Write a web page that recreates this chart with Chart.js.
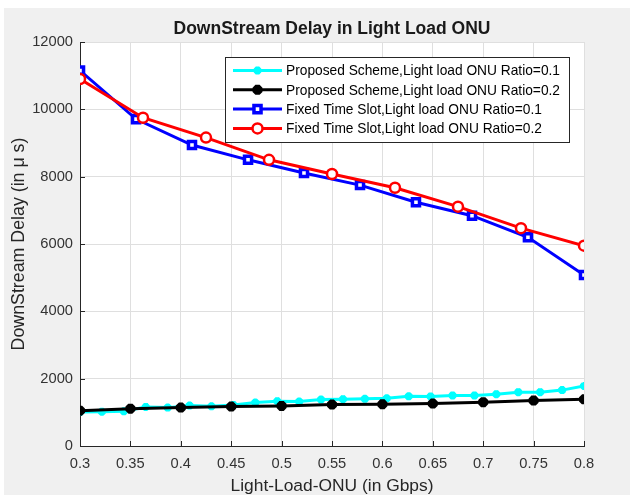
<!DOCTYPE html>
<html>
<head>
<meta charset="utf-8">
<script src="https://cdn.jsdelivr.net/npm/chart.js@4"></script>
<style>
  html, body { margin: 0; padding: 0; background: #fff; }
  #wrap { position: absolute; left: 0; top: 0; width: 630px; height: 495px; }
</style>
</head>
<body>
<div id="wrap"><canvas id="delayChart" width="630" height="495"></canvas></div>
<script>
// Data
const chartTitle = "DownStream Delay in Light Load ONU";
const seriesNames = [
  "Proposed Scheme,Light load ONU Ratio=0.1",
  "Proposed Scheme,Light load ONU Ratio=0.2",
  "Fixed Time Slot,Light load ONU Ratio=0.1",
  "Fixed Time Slot,Light load ONU Ratio=0.2",
];
const xProposed01 = [0.3, 0.3217, 0.3435, 0.3652, 0.387, 0.4087, 0.4304, 0.4522, 0.4739, 0.4957, 0.5174, 0.5391,
  0.5609, 0.5826, 0.6043, 0.6261, 0.6478, 0.6696, 0.6913, 0.713, 0.7348, 0.7565, 0.7783, 0.8];
const delayProposed01 = [1010, 1020, 1030, 1160, 1140, 1200, 1180, 1220, 1290, 1330, 1320, 1380,
  1390, 1400, 1415, 1475, 1470, 1500, 1500, 1540, 1600, 1600, 1660, 1785];
const xProposed02 = [0.3, 0.35, 0.4, 0.45, 0.5, 0.55, 0.6, 0.65, 0.7, 0.75, 0.8];
const delayProposed02 = [1050, 1110, 1140, 1170, 1190, 1230, 1240, 1260, 1300, 1350, 1385];
const xFixed01 = [0.3, 0.3556, 0.4111, 0.4667, 0.5222, 0.5778, 0.6333, 0.6889, 0.7444, 0.8];
const delayFixed01 = [11150, 9710, 8940, 8500, 8110, 7750, 7240, 6840, 6200, 5080];
const xFixed02 = [0.3, 0.3625, 0.425, 0.4875, 0.55, 0.6125, 0.675, 0.7375, 0.8];
const delayFixed02 = [10900, 9750, 9160, 8500, 8080, 7670, 7110, 6470, 5950];
const xTicks = [0.3, 0.35, 0.4, 0.45, 0.5, 0.55, 0.6, 0.65, 0.7, 0.75, 0.8];
const yTicks = [0, 2000, 4000, 6000, 8000, 10000, 12000];

function toPoints(xs, ys) {
  return xs.map(function (x, i) {
    return { x: x, y: ys[i] };
  });
}

const FONT = "Arial, 'Liberation Sans', Helvetica, sans-serif";
const AXIS_COLOR = "#262626";

// grey figure background + white axes area
const figureBackground = {
  id: "figureBackground",
  beforeDraw(chart) {
    const ctx = chart.ctx;
    const a = chart.chartArea;
    ctx.save();
    ctx.fillStyle = "#ffffff";
    ctx.fillRect(0, 0, chart.width, chart.height);
    ctx.fillStyle = "#f0f0f0";
    ctx.fillRect(4, 8, chart.width - 4, chart.height - 8);
    ctx.fillStyle = "#ffffff";
    ctx.fillRect(a.left, a.top, a.right - a.left, a.bottom - a.top);
    ctx.restore();
  },
};

// title centred over the axes, like MATLAB does it
const axesTitle = {
  id: "axesTitle",
  afterDraw(chart) {
    const ctx = chart.ctx;
    const a = chart.chartArea;
    ctx.save();
    ctx.font = "bold 17.5px " + FONT;
    ctx.fillStyle = "#1a1a1a";
    ctx.textAlign = "center";
    ctx.textBaseline = "middle";
    ctx.fillText(chartTitle, (a.left + a.right) / 2, a.top - 13);
    ctx.restore();
  },
};

// MATLAB style tick marks pointing into the axes
const inwardTicks = {
  id: "inwardTicks",
  beforeDatasetsDraw(chart) {
    const ctx = chart.ctx;
    const a = chart.chartArea;
    const xs = chart.scales.x;
    const ys = chart.scales.y;
    ctx.save();
    ctx.strokeStyle = AXIS_COLOR;
    ctx.lineWidth = 1;
    ctx.beginPath();
    xs.ticks.forEach(function (t) {
      const px = Math.round(xs.getPixelForValue(t.value)) + 0.5;
      ctx.moveTo(px, a.bottom);
      ctx.lineTo(px, a.bottom - 5);
    });
    ys.ticks.forEach(function (t) {
      const py = Math.round(ys.getPixelForValue(t.value)) + 0.5;
      ctx.moveTo(a.left, py);
      ctx.lineTo(a.left + 5, py);
    });
    ctx.stroke();
    ctx.restore();
  },
};

// legend box in the upper right of the axes
const boxLegend = {
  id: "boxLegend",
  afterDatasetsDraw(chart) {
    const ctx = chart.ctx;
    const a = chart.chartArea;
    const w = 344;
    const h = 85;
    const left = a.right - 15 - w;
    const top = a.top + 15;
    ctx.save();
    ctx.fillStyle = "#ffffff";
    ctx.fillRect(left, top, w, h);
    ctx.strokeStyle = "#262626";
    ctx.lineWidth = 1;
    ctx.strokeRect(left + 0.5, top + 0.5, w, h);
    ctx.font = "13.75px " + FONT;
    ctx.textBaseline = "middle";
    ctx.textAlign = "left";
    [0, 1, 2, 3].forEach(function (di, row) {
      const ds = chart.data.datasets[di];
      const y = top + 13.5 + row * 19.3;
      ctx.strokeStyle = ds.borderColor;
      ctx.lineWidth = ds.borderWidth;
      ctx.beginPath();
      ctx.moveTo(left + 8, y);
      ctx.lineTo(left + 57, y);
      ctx.stroke();
      ctx.fillStyle = ds.pointBackgroundColor;
      ctx.strokeStyle = ds.pointBorderColor;
      ctx.lineWidth = ds.pointBorderWidth;
      Chart.helpers.drawPoint(ctx, {
        pointStyle: ds.pointStyle,
        radius: ds.pointRadius,
        rotation: 0,
        borderWidth: ds.pointBorderWidth,
      }, left + 32.5, y);
      ctx.fillStyle = "#000000";
      ctx.fillText(seriesNames[di], left + 61, y + 1);
    });
    ctx.restore();
  },
};

const delayCtx = document.getElementById("delayChart").getContext("2d");
const delayChart = new Chart(delayCtx, {
  type: "line",
  data: {
    datasets: [
      {
        label: seriesNames[0],
        data: toPoints(xProposed01, delayProposed01),
        borderColor: "#00ffff",
        backgroundColor: "#00ffff",
        borderWidth: 3,
        pointStyle: "star",
        pointRadius: 4,
        pointBorderWidth: 3,
        pointBackgroundColor: "#00ffff",
        pointBorderColor: "#00ffff",
        order: 4,
      },
      {
        label: seriesNames[1],
        data: toPoints(xProposed02, delayProposed02),
        borderColor: "#000000",
        backgroundColor: "#000000",
        borderWidth: 3,
        pointStyle: "star",
        pointRadius: 5,
        pointBorderWidth: 4,
        pointBackgroundColor: "#000000",
        pointBorderColor: "#000000",
        order: 3,
      },
      {
        label: seriesNames[2],
        data: toPoints(xFixed01, delayFixed01),
        borderColor: "#0000ff",
        backgroundColor: "#0000ff",
        borderWidth: 3,
        pointStyle: "rect",
        pointRadius: 5,
        pointBorderWidth: 3.5,
        pointBackgroundColor: "#ffffff",
        pointBorderColor: "#0000ff",
        order: 2,
      },
      {
        label: seriesNames[3],
        data: toPoints(xFixed02, delayFixed02),
        borderColor: "#ff0000",
        backgroundColor: "#ff0000",
        borderWidth: 3,
        pointStyle: "circle",
        pointRadius: 5,
        pointBorderWidth: 2.5,
        pointBackgroundColor: "#ffffff",
        pointBorderColor: "#ff0000",
        order: 1,
      },
    ],
  },
  options: {
    responsive: false,
    animation: false,
    devicePixelRatio: 1,
    layout: {
      padding: { top: 42, right: 46, bottom: 0, left: 0 },
    },
    scales: {
      x: {
        type: "linear",
        min: 0.3,
        max: 0.8,
        afterBuildTicks: function (scale) {
          scale.ticks = xTicks.map(function (v) {
            return { value: v };
          });
        },
        afterFit: function (scale) {
          scale.height = 49;
        },
        grid: {
          color: "#dfdfdf",
          drawTicks: false,
        },
        border: {
          color: AXIS_COLOR,
          width: 1,
        },
        ticks: {
          color: "#333333",
          padding: 9,
          font: { family: FONT, size: 14.7 },
          maxRotation: 0,
          callback: function (value) {
            return String(parseFloat(value.toFixed(2)));
          },
        },
        title: {
          display: true,
          text: "Light-Load-ONU (in Gbps)",
          color: "#262626",
          font: { family: FONT, size: 17.4, lineHeight: 1 },
          padding: { top: 0, bottom: 0 },
        },
      },
      y: {
        min: 0,
        max: 12000,
        afterBuildTicks: function (scale) {
          scale.ticks = yTicks.map(function (v) {
            return { value: v };
          });
        },
        afterFit: function (scale) {
          scale.width = 80;
        },
        grid: {
          color: "#dfdfdf",
          drawTicks: false,
        },
        border: {
          color: AXIS_COLOR,
          width: 1,
        },
        ticks: {
          color: "#333333",
          padding: 7,
          font: { family: FONT, size: 14.7 },
          callback: function (value) {
            return String(value);
          },
        },
        title: {
          display: true,
          text: "DownStream Delay (in \u03bc s)",
          color: "#262626",
          font: { family: FONT, size: 17.8, lineHeight: 1 },
          padding: { top: 10, bottom: 0 },
        },
      },
    },
    plugins: {
      legend: {
        display: false,
      },
      tooltip: {
        enabled: false,
      },
      title: {
        display: false,
      },
    },
  },
  plugins: [figureBackground, inwardTicks, boxLegend, axesTitle],
});
</script>
</body>
</html>
